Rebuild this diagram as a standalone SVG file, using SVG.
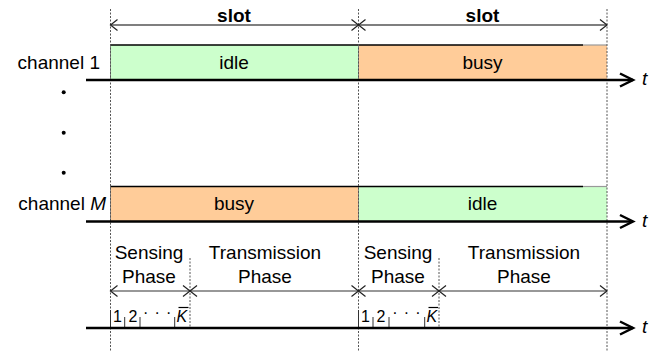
<svg xmlns="http://www.w3.org/2000/svg" width="670" height="356" viewBox="0 0 670 356">
<style>
text{font-family:"Liberation Sans",Arial,sans-serif;fill:#000}
.lbl{font-size:19px}
.mid{text-anchor:middle}
.end{text-anchor:end}
.bold{font-weight:bold}
.it{font-style:italic}
.num{font-size:16px}
.dash{stroke:#555;stroke-width:1;stroke-dasharray:2 1.5;fill:none}
.axis{stroke:#000;stroke-width:2.5;fill:none}
.slot{stroke:#000;stroke-width:1.2;fill:none}
.phase{stroke:#333;stroke-width:1.2;fill:none}
.tick{stroke:#333;stroke-width:1;fill:none}
.green{fill:#CCFFCC}
.orange{fill:#FFCC99}
.top{stroke:#000;stroke-width:1.5}
.topg{stroke:#999;stroke-width:1.2}
.side{stroke:#888;stroke-width:1}
</style>
<defs>
<marker id="chev" viewBox="0 0 8 12" refX="7.5" refY="6" markerWidth="8" markerHeight="12" markerUnits="userSpaceOnUse" orient="auto-start-reverse" overflow="visible">
<path d="M0.5,0.5 L7.5,6 L0.5,11.5" fill="none" stroke="#222" stroke-width="1.2"/>
</marker>
<marker id="bigchev" viewBox="0 0 16 16" refX="14" refY="7.5" markerWidth="16" markerHeight="16" markerUnits="userSpaceOnUse" orient="auto" overflow="visible">
<path d="M1,1 L14,7.5 L1,14" fill="none" stroke="#000" stroke-width="2.5"/>
</marker>
</defs>

<g id="channel1-idle">
<rect class="green" x="110.5" y="45" width="248" height="35"/>
<line class="side" x1="110.5" y1="45" x2="110.5" y2="80"/>
<text class="lbl mid" x="234" y="69">idle</text>
</g>
<g id="channel1-busy">
<rect class="orange" x="358.5" y="45" width="248.5" height="35"/>
<line class="side" x1="358.5" y1="45" x2="358.5" y2="80"/>
<text class="lbl mid" x="482.5" y="69">busy</text>
</g>
<line class="top" x1="110.5" y1="45" x2="583" y2="45"/>
<line class="topg" x1="583" y1="45" x2="607" y2="45"/>

<g id="channelM-busy">
<rect class="orange" x="110.5" y="186.5" width="248" height="35"/>
<line class="side" x1="110.5" y1="186.5" x2="110.5" y2="221.5"/>
<text class="lbl mid" x="234" y="210">busy</text>
</g>
<g id="channelM-idle">
<rect class="green" x="358.5" y="186.5" width="248.5" height="35"/>
<line class="side" x1="358.5" y1="186.5" x2="358.5" y2="221.5"/>
<text class="lbl mid" x="482.5" y="210">idle</text>
</g>
<line class="top" x1="110.5" y1="186.5" x2="583" y2="186.5"/>
<line class="topg" x1="583" y1="186.5" x2="607" y2="186.5"/>

<g id="labels">
<text class="lbl bold mid" x="234" y="21.5">slot</text>
<text class="lbl bold mid" x="482.5" y="21.5">slot</text>
<text class="lbl end" x="100" y="69">channel 1</text>
<text class="lbl end" x="106" y="210">channel <tspan class="it">M</tspan></text>
<text class="lbl it" x="642" y="85">t</text>
<text class="lbl it" x="642" y="226.5">t</text>
<text class="lbl it" x="642" y="333">t</text>
<text class="lbl mid" x="149" y="259">Sensing</text>
<text class="lbl mid" x="149" y="283">Phase</text>
<text class="lbl mid" x="265" y="259">Transmission</text>
<text class="lbl mid" x="265" y="283">Phase</text>
<text class="lbl mid" x="398" y="259">Sensing</text>
<text class="lbl mid" x="398" y="283">Phase</text>
<text class="lbl mid" x="524" y="259">Transmission</text>
<text class="lbl mid" x="524" y="283">Phase</text>
</g>

<g id="dots">
<circle cx="63.7" cy="92.3" r="2"/>
<circle cx="63.7" cy="132.7" r="2"/>
<circle cx="63.7" cy="172.7" r="2"/>
</g>

<g id="subslots1">
<text class="num" x="113" y="322">1</text>
<text class="num" x="128.5" y="322">2</text>
<text class="num" x="143" y="317.5">·</text>
<text class="num" x="154.5" y="317.5">·</text>
<text class="num" x="166" y="317.5">·</text>
<text class="num it" x="176.5" y="322">K</text>
<line x1="178.5" y1="307.5" x2="188.5" y2="307.5" stroke="#000" stroke-width="1.2"/>
</g>
<g id="subslots2">
<text class="num" x="361" y="322">1</text>
<text class="num" x="376.5" y="322">2</text>
<text class="num" x="392.3" y="317.5">·</text>
<text class="num" x="403.8" y="317.5">·</text>
<text class="num" x="415.3" y="317.5">·</text>
<text class="num it" x="426.5" y="322">K</text>
<line x1="428.5" y1="307.5" x2="438" y2="307.5" stroke="#000" stroke-width="1.2"/>
</g>

<g id="connectors">
<line class="dash" x1="110.5" y1="9" x2="110.5" y2="352"/>
<line class="dash" x1="358.5" y1="9" x2="358.5" y2="352"/>
<line class="dash" x1="607" y1="9" x2="607" y2="352"/>
<line class="dash" x1="190" y1="258" x2="190" y2="328"/>
<line class="dash" x1="439" y1="258" x2="439" y2="328"/>

<line class="slot" x1="110.5" y1="25" x2="358.5" y2="25" marker-start="url(#chev)" marker-end="url(#chev)"/>
<line class="slot" x1="358.5" y1="25" x2="607" y2="25" marker-start="url(#chev)" marker-end="url(#chev)"/>

<line class="phase" x1="110.5" y1="291" x2="190" y2="291" marker-start="url(#chev)" marker-end="url(#chev)"/>
<line class="phase" x1="190" y1="291" x2="358.5" y2="291" marker-start="url(#chev)" marker-end="url(#chev)"/>
<line class="phase" x1="358.5" y1="291" x2="439" y2="291" marker-start="url(#chev)" marker-end="url(#chev)"/>
<line class="phase" x1="439" y1="291" x2="607" y2="291" marker-start="url(#chev)" marker-end="url(#chev)"/>

<line class="tick" x1="110.5" y1="310" x2="110.5" y2="328"/>
<line class="tick" x1="124.7" y1="317" x2="124.7" y2="328"/>
<line class="tick" x1="140" y1="317" x2="140" y2="328"/>
<line class="tick" x1="174.7" y1="317" x2="174.7" y2="328"/>
<line class="tick" x1="358.5" y1="310" x2="358.5" y2="328"/>
<line class="tick" x1="373" y1="317" x2="373" y2="328"/>
<line class="tick" x1="389" y1="317" x2="389" y2="328"/>
<line class="tick" x1="424.7" y1="317" x2="424.7" y2="328"/>

<line class="axis" x1="86" y1="80" x2="633" y2="80" marker-end="url(#bigchev)"/>
<line class="axis" x1="86" y1="221.5" x2="633" y2="221.5" marker-end="url(#bigchev)"/>
<line class="axis" x1="86" y1="328" x2="633" y2="328" marker-end="url(#bigchev)"/>
</g>
</svg>
